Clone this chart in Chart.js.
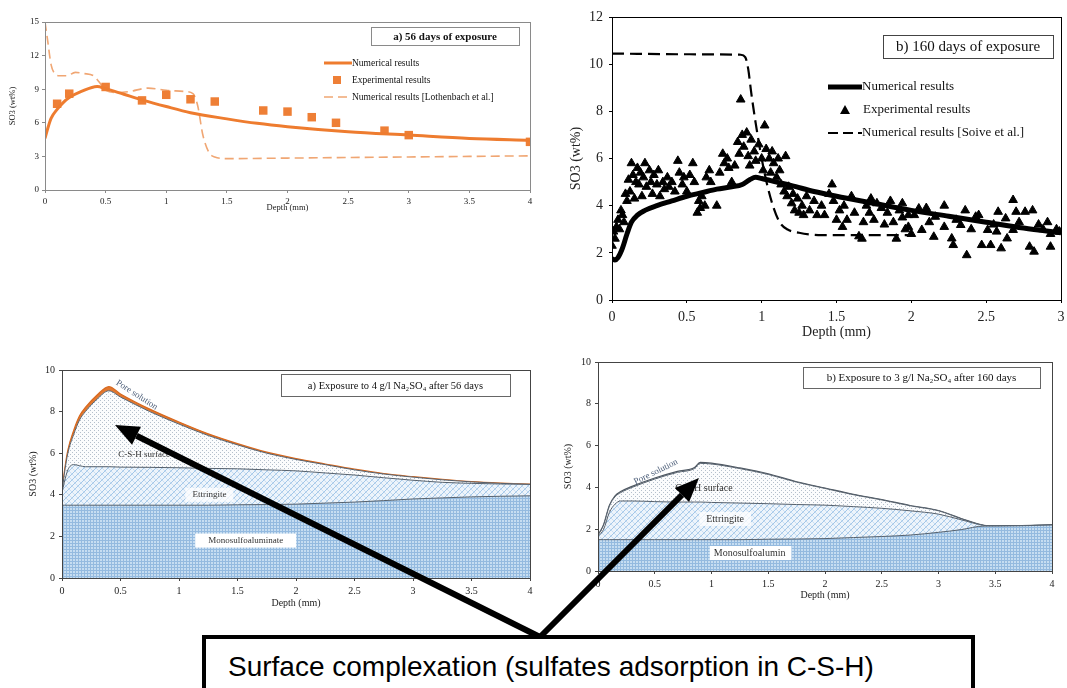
<!DOCTYPE html>
<html>
<head>
<meta charset="utf-8">
<script src="https://cdn.jsdelivr.net/npm/chart.js@4.4.1/dist/chart.umd.min.js"></script>
<style>
html, body { margin: 0; padding: 0; background: #fff; }
#page { position: relative; width: 1067px; height: 688px; overflow: hidden; background: #fff; }
#page canvas { position: absolute; }
#note { position: absolute; left: 202px; top: 635px; width: 773px; height: 80px; box-sizing: border-box;
  border: 4px solid #000; background: #fff; z-index: 3; }
#note span { position: absolute; left: 22px; top: 12px; font: 28px "Liberation Sans", Arial, sans-serif; color: #000; white-space: nowrap; }
</style>
</head>
<body>
<div id="page">
  <canvas id="c56" width="545" height="215" style="left:0px;top:0px"></canvas>
  <canvas id="c160" width="507" height="345" style="left:560px;top:0px"></canvas>
  <canvas id="m56" width="545" height="255" style="left:0px;top:360px"></canvas>
  <canvas id="m160" width="522" height="260" style="left:545px;top:350px"></canvas>
  <canvas id="arrows" width="1067" height="688" style="left:0px;top:0px;z-index:2"></canvas>
  <div id="note"><span>Surface complexation (sulfates adsorption in C-S-H)</span></div>
</div>
<script>
'use strict';

// ---- a) 56 days of exposure ----
let depthNum56 = [0, 0.02, 0.05, 0.1, 0.15, 0.2, 0.3, 0.43, 0.5, 0.65, 0.8, 1.0, 1.2, 1.5, 1.75, 2.0, 2.5, 3.0, 3.5, 4.0];
let so3Num56 = [4.6, 5.4, 6.4, 7.2, 7.8, 8.25, 8.8, 9.25, 9.05, 8.55, 8.05, 7.45, 6.9, 6.35, 5.95, 5.65, 5.2, 4.9, 4.6, 4.45];
let depthExp56 = [0.1, 0.2, 0.5, 0.8, 1.0, 1.2, 1.4, 1.8, 2.0, 2.2, 2.4, 2.8, 3.0, 4.0];
let so3Exp56 = [7.7, 8.6, 9.2, 8.0, 8.5, 8.1, 7.9, 7.1, 7.0, 6.5, 6.0, 5.3, 4.9, 4.3];
let depthLoth = [0, 0.02, 0.05, 0.08, 0.12, 0.18, 0.25, 0.32, 0.4, 0.45, 0.5, 0.6, 0.7, 0.85, 1.0, 1.15, 1.22, 1.26, 1.3, 1.35, 1.4, 1.5, 2.0, 2.5, 3.0, 3.5, 4.0];
let so3Loth = [15, 13.5, 11.2, 10.4, 10.2, 10.2, 10.5, 10.4, 10.2, 9.6, 8.9, 8.7, 8.8, 9.1, 8.9, 8.8, 8.6, 7.5, 5.0, 3.4, 2.95, 2.8, 2.85, 2.9, 2.95, 3.0, 3.05];

// ---- b) 160 days of exposure ----
let depthNum160 = [0, 0.02, 0.04, 0.07, 0.1, 0.13, 0.17, 0.22, 0.3, 0.4, 0.5, 0.6, 0.7, 0.8, 0.87, 0.92, 0.96, 1.0, 1.1, 1.2, 1.35, 1.5, 1.75, 2.0, 2.25, 2.5, 2.75, 3.0];
let so3Num160 = [1.75, 1.7, 1.8, 2.2, 2.8, 3.3, 3.6, 3.8, 4.0, 4.2, 4.4, 4.55, 4.7, 4.8, 4.9, 5.1, 5.2, 5.15, 5.0, 4.85, 4.6, 4.4, 4.1, 3.8, 3.55, 3.3, 3.05, 2.85];
let depthSoive = [0, 0.5, 0.86, 0.89, 0.91, 0.93, 0.96, 1.0, 1.04, 1.08, 1.12, 1.17, 1.25, 1.4, 1.6, 2.0];
let so3Soive = [10.45, 10.42, 10.4, 10.3, 9.8, 8.8, 7.5, 6.0, 4.8, 3.9, 3.3, 3.0, 2.85, 2.75, 2.75, 2.75];
let depthExp160 = [0.0, 0.01, 0.02, 0.03, 0.04, 0.05, 0.06, 0.07, 0.08, 0.09, 0.1,
  0.11, 0.12, 0.13, 0.14, 0.15, 0.16, 0.17, 0.18, 0.19, 0.2, 0.21, 0.22, 0.23, 0.25, 0.26, 0.27, 0.28, 0.3, 0.31, 0.32, 0.34, 0.35, 0.37, 0.38, 0.4, 0.42, 0.44, 0.45, 0.47, 0.48, 0.5, 0.52, 0.54, 0.55,
  0.57, 0.58, 0.59, 0.6, 0.62, 0.63, 0.65, 0.66, 0.7, 0.72, 0.74, 0.75, 0.77, 0.78, 0.8, 0.82, 0.84, 0.85, 0.86, 0.87, 0.88, 0.9, 0.91, 0.92, 0.93, 0.95, 0.96, 0.98, 1.0, 1.01, 1.02, 1.03, 1.05, 1.06, 1.07, 1.08, 1.1, 1.11, 1.12, 1.13, 1.15, 1.16, 1.17, 1.18, 1.2, 1.21, 1.22, 1.24, 1.25, 1.27, 1.28, 1.3, 1.32, 1.35, 1.37, 1.4, 1.42, 1.45, 1.47, 1.48, 1.5, 1.52, 1.54, 1.55, 1.57, 1.6, 1.62, 1.65, 1.67, 1.68, 1.7, 1.72, 1.73, 1.75, 1.77, 1.8, 1.82, 1.84, 1.86, 1.88, 1.9, 1.92, 1.94, 1.96, 1.98, 2.0,
  1.94, 2.05, 2.22, 2.36, 2.45, 2.58, 2.68, 2.7, 2.76, 2.81, 2.91, 2.97, 1.98, 2.07, 2.15, 2.27, 2.28, 2.37, 2.47, 2.53, 2.6, 2.64, 2.79, 2.82, 2.93, 2.22, 2.33, 2.51, 2.57, 2.68, 2.85, 2.93, 2.99, 2.16, 2.43, 2.63, 2.12, 2.3, 2.4, 2.55, 2.72, 2.88, 2.02, 2.1];
let so3Exp160 = [2.3, 2.9, 2.6, 3.1, 3.4, 3.0, 3.8, 3.6, 3.3, 4.5, 4.2,
  5.1, 4.6, 5.8, 5.3, 4.3, 5.0, 5.6, 4.9, 5.4, 4.4, 5.2, 5.8, 4.8, 5.5, 5.0, 4.5, 5.3, 4.9, 5.5, 4.4, 5.0, 4.7, 5.2, 4.8, 5.0, 4.6, 5.9, 5.4, 4.9, 5.2, 4.6, 5.3, 5.8, 5.0,
  3.7, 4.2, 3.9, 4.4, 4.0, 5.2, 5.5, 5.0, 4.0, 5.4, 6.2, 5.8, 6.0, 5.6, 5.0, 5.7, 6.7, 6.2, 8.5, 7.0, 6.5, 7.1, 6.1, 5.7, 6.8, 6.3, 5.9, 6.6, 6.0, 5.5, 7.4, 6.4, 6.0, 5.4, 6.3, 5.8, 5.2, 6.0, 5.5, 4.9, 4.6, 6.1, 4.4, 4.8, 4.1, 4.5, 3.8, 4.3, 3.7, 4.0, 3.6, 4.4, 3.8, 4.2, 3.6, 4.0, 3.6, 4.5, 4.9, 4.2, 3.4, 3.8, 3.1, 4.0, 3.4, 4.4, 3.7, 2.7, 2.6, 3.3, 4.0, 3.7, 4.3, 3.4, 4.1, 3.9, 3.2, 3.7, 4.2, 3.3, 2.6, 3.8, 3.5, 3.0, 3.6, 2.8,
  4.1, 3.88, 4.0, 3.8, 3.6, 3.74, 4.24, 3.74, 3.74, 3.8, 3.3, 3.0, 3.1, 2.97, 2.68, 2.61, 2.33, 1.9, 2.33, 2.33, 2.19, 2.61, 2.26, 2.05, 2.26, 3.1, 3.18, 2.97, 2.9, 2.97, 3.2, 2.8, 2.9, 3.53, 3.53, 3.46, 3.3, 3.4, 3.0, 3.2, 3.3, 3.0, 3.6, 3.9];

// ---- a) 4 g/l Na2SO4 after 56 days (phase boundaries) ----
let depthPh56 = [0, 0.02, 0.05, 0.1, 0.15, 0.2, 0.3, 0.4, 0.5, 0.75, 1, 1.25, 1.5, 1.75, 2, 2.25, 2.5, 2.75, 3, 3.25, 3.5, 3.75, 4];
let monoTop56 = [3.5, 3.5, 3.5, 3.5, 3.5, 3.5, 3.5, 3.5, 3.5, 3.5, 3.5, 3.5, 3.52, 3.53, 3.55, 3.6, 3.65, 3.72, 3.8, 3.85, 3.9, 3.93, 3.95];
let ettTop56 = [4.1, 4.6, 5.2, 5.45, 5.4, 5.35, 5.35, 5.35, 5.33, 5.32, 5.3, 5.27, 5.25, 5.2, 5.15, 5.05, 4.95, 4.82, 4.7, 4.6, 4.55, 4.52, 4.5];
let cshTop56 = [4.1, 5.0, 6.0, 6.9, 7.6, 8.0, 8.6, 9.0, 8.7, 8.0, 7.4, 6.85, 6.4, 6.0, 5.7, 5.45, 5.2, 5.0, 4.85, 4.72, 4.62, 4.55, 4.5];
let poreTop56 = [4.15, 5.1, 6.15, 7.1, 7.8, 8.2, 8.8, 9.2, 8.85, 8.12, 7.5, 6.93, 6.46, 6.05, 5.74, 5.48, 5.23, 5.02, 4.87, 4.74, 4.63, 4.56, 4.51];

// ---- b) 3 g/l Na2SO4 after 160 days (phase boundaries) ----
let depthPh160 = [0, 0.05, 0.1, 0.15, 0.2, 0.3, 0.5, 0.7, 0.85, 0.9, 1, 1.25, 1.5, 1.75, 2, 2.25, 2.5, 2.75, 3, 3.2, 3.4, 3.5, 4];
let monoTop160 = [1.5, 1.5, 1.5, 1.5, 1.5, 1.5, 1.5, 1.5, 1.5, 1.5, 1.5, 1.5, 1.52, 1.53, 1.55, 1.6, 1.65, 1.72, 1.85, 1.98, 2.15, 2.15, 2.2];
let ettTop160 = [1.65, 2.0, 2.8, 3.2, 3.35, 3.35, 3.32, 3.3, 3.3, 3.3, 3.28, 3.25, 3.22, 3.18, 3.15, 3.08, 3.0, 2.88, 2.72, 2.45, 2.18, 2.15, 2.2];
let cshTop160 = [1.7, 2.2, 3.1, 3.55, 3.75, 4.0, 4.4, 4.72, 4.9, 5.15, 5.12, 4.9, 4.62, 4.25, 3.95, 3.65, 3.4, 3.12, 2.88, 2.5, 2.18, 2.15, 2.2];
let poreTop160 = [1.72, 2.23, 3.14, 3.6, 3.8, 4.05, 4.45, 4.77, 4.95, 5.2, 5.16, 4.93, 4.65, 4.27, 3.97, 3.67, 3.42, 3.13, 2.89, 2.51, 2.19, 2.16, 2.21];

Chart.defaults.font.family = "'Liberation Serif', 'Times New Roman', serif";
Chart.defaults.color = '#222';

function toPts(xs, ys) {
  return xs.map((x, i) => ({ x: x, y: ys[i] }));
}

function plainTick(value) {
  return String(Math.round(value * 100) / 100);
}

function baseOptions(o) {
  return {
    responsive: false,
    animation: false,
    devicePixelRatio: 1,
    layout: { padding: { top: o.padTop, right: o.padRight, left: 0, bottom: 0 } },
    plugins: { legend: { display: false }, tooltip: { enabled: false } },
    scales: {
      x: {
        type: 'linear', min: 0, max: o.xMax,
        ticks: { stepSize: o.xStep, font: { size: o.font }, padding: o.tickPad, color: '#222', maxRotation: 0, autoSkip: false, callback: plainTick },
        grid: { drawOnChartArea: false, tickLength: 3, color: o.axis },
        border: { color: o.axis, width: 1 },
        title: { display: true, text: 'Depth (mm)', font: { size: o.titleFont }, color: '#222', padding: { top: 0, bottom: o.xTitlePad } },
        afterFit: s => { s.height = o.xHeight; s.paddingLeft = 0; s.paddingRight = 0; }
      },
      y: {
        min: 0, max: o.yMax,
        ticks: { stepSize: o.yStep, font: { size: o.font }, padding: o.tickPad, color: '#222', callback: plainTick },
        grid: { drawOnChartArea: false, tickLength: 3, color: o.axis },
        border: { color: o.axis, width: 1 },
        title: { display: true, text: 'SO3 (wt%)', font: { size: o.titleFont }, color: '#222', padding: { top: o.yTitlePad, bottom: 0 } },
        afterFit: s => { s.width = o.yWidth; s.paddingTop = 0; s.paddingBottom = 0; }
      }
    }
  };
}

function frame(chart, color) {
  let a = chart.chartArea, ctx = chart.ctx;
  ctx.save();
  ctx.strokeStyle = color;
  ctx.lineWidth = 1;
  ctx.strokeRect(Math.round(a.left) + 0.5, Math.round(a.top) + 0.5, Math.round(a.right - a.left), Math.round(a.bottom - a.top));
  ctx.restore();
}

function titleBox(ctx, x1, y1, x2, y2, text, font, color) {
  ctx.save();
  ctx.fillStyle = '#fff';
  ctx.fillRect(x1, y1, x2 - x1, y2 - y1);
  ctx.strokeStyle = color;
  ctx.lineWidth = 1;
  ctx.strokeRect(x1 + 0.5, y1 + 0.5, x2 - x1, y2 - y1);
  ctx.fillStyle = '#111';
  ctx.font = font;
  ctx.textAlign = 'center';
  ctx.textBaseline = 'middle';
  ctx.fillText(text, (x1 + x2) / 2, (y1 + y2) / 2 + 1);
  ctx.restore();
}

function legendText(ctx, text, x, y, font) {
  ctx.font = font;
  ctx.fillStyle = '#111';
  ctx.textAlign = 'left';
  ctx.textBaseline = 'middle';
  ctx.fillText(text, x, y);
}

function legendLine(ctx, x1, x2, y, color, width, dash) {
  ctx.save();
  ctx.strokeStyle = color;
  ctx.lineWidth = width;
  ctx.setLineDash(dash);
  ctx.beginPath();
  ctx.moveTo(x1, y);
  ctx.lineTo(x2, y);
  ctx.stroke();
  ctx.restore();
}

// fill patterns for the phase charts
function gridPattern() {
  let c = document.createElement('canvas');
  c.width = 3; c.height = 3;
  let g = c.getContext('2d');
  g.fillStyle = '#c6ddf1';
  g.fillRect(0, 0, 3, 3);
  g.fillStyle = '#94badf';
  g.fillRect(0, 0, 3, 1);
  g.fillRect(0, 0, 1, 3);
  return g.createPattern(c, 'repeat');
}

function hatchPattern() {
  let c = document.createElement('canvas');
  c.width = 6; c.height = 6;
  let g = c.getContext('2d');
  g.fillStyle = '#edf4fb';
  g.fillRect(0, 0, 6, 6);
  g.lineWidth = 1;
  g.strokeStyle = '#a3c7e8';
  [[0, 6, 6, 0], [-3, 3, 3, -3], [3, 9, 9, 3]].forEach(l => { g.beginPath(); g.moveTo(l[0], l[1]); g.lineTo(l[2], l[3]); g.stroke(); });
  g.strokeStyle = '#c9def2';
  [[0, 0, 6, 6], [-3, 3, 3, 9], [3, -3, 9, 3]].forEach(l => { g.beginPath(); g.moveTo(l[0], l[1]); g.lineTo(l[2], l[3]); g.stroke(); });
  return g.createPattern(c, 'repeat');
}

function dotPattern() {
  let c = document.createElement('canvas');
  c.width = 4; c.height = 4;
  let g = c.getContext('2d');
  g.fillStyle = '#fbfcfd';
  g.fillRect(0, 0, 4, 4);
  g.fillStyle = '#b4bfcb';
  g.fillRect(0, 0, 1, 1);
  g.fillRect(2, 2, 1, 1);
  return g.createPattern(c, 'repeat');
}

let monoFill = gridPattern();
let ettFill = hatchPattern();
let cshFill = dotPattern();

// ---------- chart a) 56 days ----------
let opt56 = baseOptions({ padTop: 22, padRight: 15, xMax: 4, xStep: 0.5, yMax: 15, yStep: 3, font: 9, tickPad: 3,
  titleFont: 8.5, axis: '#8a8a8a', xHeight: 25, xTitlePad: 2, yWidth: 45, yTitlePad: 8 });

new Chart(document.getElementById('c56'), {
  type: 'line',
  data: {
    datasets: [
      { label: 'Numerical results', data: toPts(depthNum56, so3Num56), borderColor: '#ee7c2f', borderWidth: 3,
        pointRadius: 0, cubicInterpolationMode: 'monotone', fill: false },
      { label: 'Experimental results', data: toPts(depthExp56, so3Exp56), showLine: false, pointStyle: 'rect',
        pointRadius: 6, backgroundColor: '#ee7f36', borderColor: '#ee7f36', borderWidth: 0 },
      { label: 'Numerical results [Lothenbach et al.]', data: toPts(depthLoth, so3Loth), borderColor: '#f0a673',
        borderWidth: 1.6, borderDash: [9, 5], pointRadius: 0, cubicInterpolationMode: 'monotone', fill: false }
    ]
  },
  options: opt56,
  plugins: [{
    id: 'deco56',
    afterDraw(chart) {
      let ctx = chart.ctx;
      frame(chart, '#8a8a8a');
      titleBox(ctx, 371, 27, 519, 45, 'a) 56 days of exposure', "bold 11px 'Liberation Serif'", '#8a8a8a');
      legendLine(ctx, 324, 352, 63, '#ee7c2f', 3, []);
      legendText(ctx, 'Numerical results', 352, 63, "9.5px 'Liberation Serif'");
      ctx.fillStyle = '#ee7f36';
      ctx.fillRect(333, 76, 8, 8);
      legendText(ctx, 'Experimental results', 352, 80, "9.5px 'Liberation Serif'");
      legendLine(ctx, 324, 352, 97, '#f0a673', 1.6, [9, 5]);
      legendText(ctx, 'Numerical results [Lothenbach et al.]', 352, 97, "9.5px 'Liberation Serif'");
    }
  }]
});

// ---------- chart b) 160 days ----------
let opt160 = baseOptions({ padTop: 17, padRight: 2, xMax: 3, xStep: 0.5, yMax: 12, yStep: 2, font: 14, tickPad: 6,
  titleFont: 14, axis: '#000', xHeight: 45, xTitlePad: 4, yWidth: 52, yTitlePad: 8 });

new Chart(document.getElementById('c160'), {
  type: 'line',
  data: {
    datasets: [
      { label: 'Experimental results', data: toPts(depthExp160, so3Exp160), showLine: false, pointStyle: 'triangle',
        pointRadius: 5, backgroundColor: '#000', borderColor: '#000', borderWidth: 1 },
      { label: 'Numerical results', data: toPts(depthNum160, so3Num160), borderColor: '#000', borderWidth: 5,
        pointRadius: 0, cubicInterpolationMode: 'monotone', fill: false },
      { label: 'Numerical results [Soive et al.]', data: toPts(depthSoive, so3Soive), borderColor: '#000',
        borderWidth: 2.2, borderDash: [12, 6], pointRadius: 0, cubicInterpolationMode: 'monotone', fill: false }
    ]
  },
  options: opt160,
  plugins: [{
    id: 'deco160',
    afterDraw(chart) {
      let ctx = chart.ctx;
      frame(chart, '#000');
      titleBox(ctx, 323, 35, 493, 58, 'b) 160 days of exposure', "15px 'Liberation Serif'", '#444');
      legendLine(ctx, 268, 302, 87, '#000', 5, []);
      legendText(ctx, 'Numerical results', 302, 87, "13px 'Liberation Serif'");
      ctx.fillStyle = '#000';
      ctx.beginPath();
      ctx.moveTo(285, 105); ctx.lineTo(290, 114); ctx.lineTo(280, 114); ctx.closePath(); ctx.fill();
      legendText(ctx, 'Experimental results', 303, 110, "13px 'Liberation Serif'");
      legendLine(ctx, 268, 302, 133, '#000', 2.2, [10, 5]);
      legendText(ctx, 'Numerical results [Soive et al.]', 302, 133, "13px 'Liberation Serif'");
    }
  }]
});

// ---------- phase chart helper ----------
function phaseSets(xs, mono, ett, csh, pore, poreFill, poreLine) {
  let line = '#55606c';
  return [
    { label: 'Monosulfoaluminate', data: toPts(xs, mono), borderColor: line, borderWidth: 1, backgroundColor: monoFill,
      fill: 'origin', pointRadius: 0, cubicInterpolationMode: 'monotone' },
    { label: 'Ettringite', data: toPts(xs, ett), borderColor: line, borderWidth: 1, backgroundColor: ettFill,
      fill: '-1', pointRadius: 0, cubicInterpolationMode: 'monotone' },
    { label: 'C-S-H surface', data: toPts(xs, csh), borderColor: line, borderWidth: 1, backgroundColor: cshFill,
      fill: '-1', pointRadius: 0, cubicInterpolationMode: 'monotone' },
    { label: 'Pore solution', data: toPts(xs, pore), borderColor: poreLine, borderWidth: 1.2, backgroundColor: poreFill,
      fill: '-1', pointRadius: 0, cubicInterpolationMode: 'monotone' }
  ];
}

function label(ctx, text, x, y, opts) {
  ctx.save();
  ctx.font = opts.font;
  ctx.translate(x, y);
  ctx.rotate((opts.angle || 0) * Math.PI / 180);
  ctx.textAlign = opts.align || 'center';
  ctx.textBaseline = 'middle';
  if (opts.bg) {
    let w = ctx.measureText(text).width + (opts.bgPad || 8);
    let x0 = opts.align === 'left' ? -4 : -w / 2;
    ctx.fillStyle = opts.bg;
    ctx.fillRect(x0, -7, w, 14);
  }
  ctx.fillStyle = opts.color || '#222';
  ctx.fillText(text, 0, 0);
  ctx.restore();
}

// ---------- a) Exposure to 4 g/l Na2SO4 after 56 days ----------
let optM56 = baseOptions({ padTop: 10, padRight: 15, xMax: 4, xStep: 0.5, yMax: 10, yStep: 2, font: 10, tickPad: 4,
  titleFont: 10, axis: '#444', xHeight: 37, xTitlePad: 6, yWidth: 62, yTitlePad: 27 });

new Chart(document.getElementById('m56'), {
  type: 'line',
  data: { datasets: phaseSets(depthPh56, monoTop56, ettTop56, cshTop56, poreTop56, '#e2782f', '#d8691f') },
  options: optM56,
  plugins: [{
    id: 'decoM56',
    afterDatasetsDraw(chart) {
      let ctx = chart.ctx, x = chart.scales.x, y = chart.scales.y;
      label(ctx, 'Pore solution', x.getPixelForValue(0.64), y.getPixelForValue(8.8), { font: "9px 'Liberation Serif'", angle: 33, color: '#4b5d78' });
      label(ctx, 'C-S-H surface', x.getPixelForValue(0.48), y.getPixelForValue(5.95), { font: "9px 'Liberation Serif'", align: 'left', color: '#333' });
      label(ctx, 'Ettringite', x.getPixelForValue(1.26), y.getPixelForValue(4.0), { font: "9px 'Liberation Serif'", color: '#333', bg: 'rgba(255,255,255,0.75)', bgPad: 14 });
      label(ctx, 'Monosulfoaluminate', x.getPixelForValue(1.57), y.getPixelForValue(1.8), { font: "9px 'Liberation Serif'", color: '#333', bg: '#fff', bgPad: 26 });
      frame(chart, '#444');
      titleBox(ctx, 281, 14, 510, 36, 'a) Exposure to 4 g/l Na\u2082SO\u2084 after 56 days', "10.5px 'Liberation Serif'", '#666');
    }
  }]
});

// ---------- b) Exposure to 3 g/l Na2SO4 after 160 days ----------
let optM160 = baseOptions({ padTop: 12, padRight: 15, xMax: 4, xStep: 0.5, yMax: 10, yStep: 2, font: 10, tickPad: 4,
  titleFont: 10, axis: '#444', xHeight: 39, xTitlePad: 9, yWidth: 53, yTitlePad: 17 });

new Chart(document.getElementById('m160'), {
  type: 'line',
  data: { datasets: phaseSets(depthPh160, monoTop160, ettTop160, cshTop160, poreTop160, '#d9dde2', '#4f5862') },
  options: optM160,
  plugins: [{
    id: 'decoM160',
    afterDatasetsDraw(chart) {
      let ctx = chart.ctx, x = chart.scales.x, y = chart.scales.y;
      label(ctx, 'Pore solution', x.getPixelForValue(0.51), y.getPixelForValue(4.74), { font: "9px 'Liberation Serif'", angle: -26, color: '#4b5d78' });
      label(ctx, 'C-S-H surface', x.getPixelForValue(0.68), y.getPixelForValue(3.97), { font: "10px 'Liberation Serif'", align: 'left', color: '#333' });
      label(ctx, 'Ettringite', x.getPixelForValue(1.12), y.getPixelForValue(2.49), { font: "10px 'Liberation Serif'", color: '#333', bg: 'rgba(255,255,255,0.75)', bgPad: 14 });
      label(ctx, 'Monosulfoalumin', x.getPixelForValue(1.02), y.getPixelForValue(0.86), { font: "10px 'Liberation Serif'", align: 'left', color: '#333', bg: '#fff', bgPad: 10 });
      frame(chart, '#444');
      titleBox(ctx, 258, 17, 495, 38, 'b) Exposure to 3 g/l Na\u2082SO\u2084 after 160 days', "11px 'Liberation Serif'", '#666');
    }
  }]
});

// ---------- arrows pointing at the C-S-H layer ----------
function arrow(g, x0, y0, x1, y1) {
  let ang = Math.atan2(y1 - y0, x1 - x0);
  let head = 24, half = 10;
  let bx = x1 - head * Math.cos(ang), by = y1 - head * Math.sin(ang);
  g.beginPath();
  g.moveTo(x0, y0);
  g.lineTo(bx, by);
  g.stroke();
  g.beginPath();
  g.moveTo(x1, y1);
  g.lineTo(bx + half * Math.sin(ang), by - half * Math.cos(ang));
  g.lineTo(bx - half * Math.sin(ang), by + half * Math.cos(ang));
  g.closePath();
  g.fill();
}

let ag = document.getElementById('arrows').getContext('2d');
ag.strokeStyle = '#000';
ag.fillStyle = '#000';
ag.lineWidth = 6;
ag.lineCap = 'butt';
arrow(ag, 540, 637, 115, 425);
arrow(ag, 540, 637, 699, 478);
</script>
</body>
</html>
